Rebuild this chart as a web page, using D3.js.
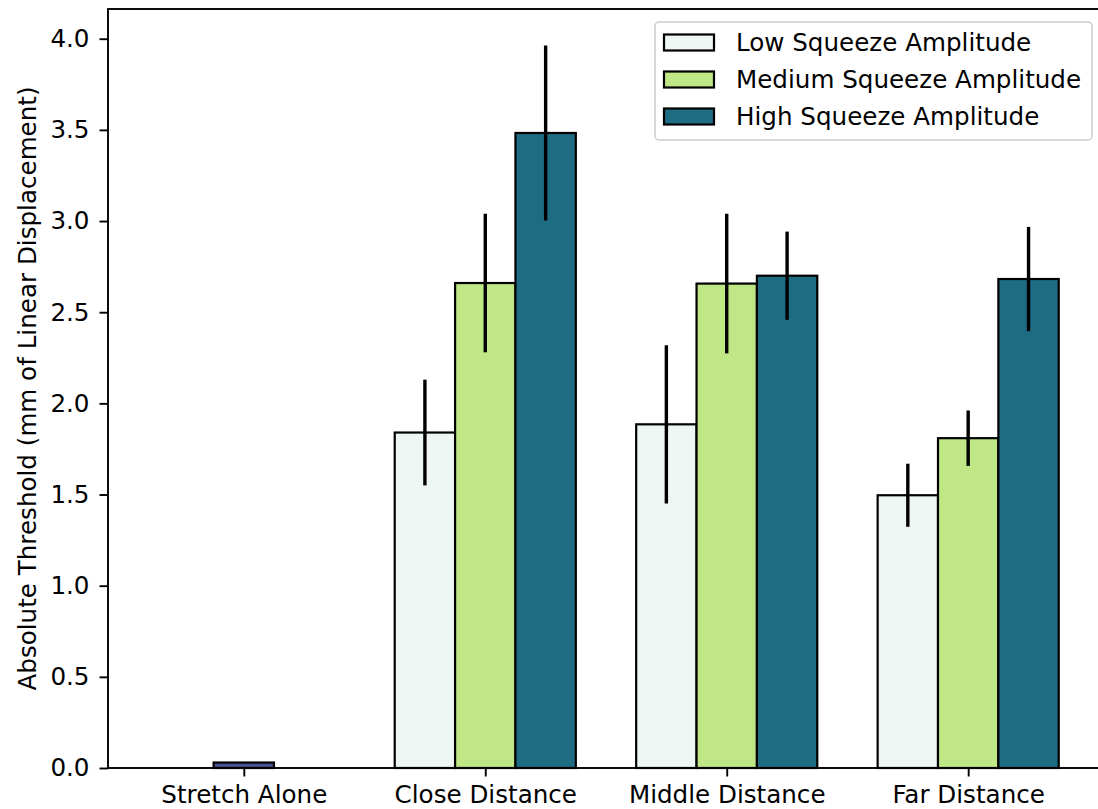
<!DOCTYPE html>
<html>
<head>
<meta charset="utf-8">
<script src="https://cdn.jsdelivr.net/npm/d3@7"></script>
<style>
  html, body { margin: 0; padding: 0; background: #fff; overflow: hidden; }
  svg { display: block; font-family: "DejaVu Sans", sans-serif; }
</style>
</head>
<body>
<svg id="chart" width="1098" height="809"></svg>
<script>
// Conditions along the x axis
const categories = ["Stretch Alone", "Close Distance", "Middle Distance", "Far Distance"];

// Squeeze amplitude series (Stretch Alone has no squeeze condition)
const seriesNames = ["Low Squeeze Amplitude", "Medium Squeeze Amplitude", "High Squeeze Amplitude"];
const lowMeans    = [null, 1.84, 1.885, 1.496];
const lowErrors   = [null, 0.29, 0.434, 0.173];
const mediumMeans = [null, 2.66, 2.657, 1.809];
const mediumErrors= [null, 0.38, 0.383, 0.152];
const highMeans   = [null, 3.483, 2.70, 2.682];
const highErrors  = [null, 0.48, 0.242, 0.286];

// Stretch-only baseline
const stretchMean = [0.03];

const yTicks = [0.0, 0.5, 1.0, 1.5, 2.0, 2.5, 3.0, 3.5, 4.0];
const colors = ["#edf6f3", "#bfe785", "#1e6c83"];
const stretchColor = "#47538d";

const svg = d3.select("#chart");
const margin = { left: 108, top: 9, right: 1104, bottom: 768 };
const fontSize = "24.6px";

const x = d3.scaleLinear().domain([-0.5625, 3.5625]).range([margin.left, margin.right]);
const y = d3.scaleLinear().domain([0, 4.163]).range([margin.bottom, margin.top]);

const barW = 0.25;
const series = [
  { name: seriesNames[0], means: lowMeans, errs: lowErrors, color: colors[0], offset: -0.25 },
  { name: seriesNames[1], means: mediumMeans, errs: mediumErrors, color: colors[1], offset: 0 },
  { name: seriesNames[2], means: highMeans, errs: highErrors, color: colors[2], offset: 0.25 }
];

const plot = svg.append("g");

// Stretch Alone bar
plot.append("rect")
  .attr("x", x(0 - barW / 2))
  .attr("y", y(stretchMean[0]))
  .attr("width", x(barW) - x(0))
  .attr("height", y(0) - y(stretchMean[0]))
  .attr("fill", stretchColor)
  .attr("stroke", "#000")
  .attr("stroke-width", 2.2);

// Grouped bars
series.forEach(s => {
  const pts = s.means.map((m, i) => ({ i, m, e: s.errs[i] })).filter(d => d.m !== null);
  plot.append("g").selectAll("rect").data(pts).join("rect")
    .attr("x", d => x(d.i + s.offset - barW / 2))
    .attr("y", d => y(d.m))
    .attr("width", x(barW) - x(0))
    .attr("height", d => y(0) - y(d.m))
    .attr("fill", s.color)
    .attr("stroke", "#000")
    .attr("stroke-width", 2.2);
});

// Error bars
series.forEach(s => {
  const pts = s.means.map((m, i) => ({ i, m, e: s.errs[i] })).filter(d => d.m !== null);
  plot.append("g").selectAll("line").data(pts).join("line")
    .attr("x1", d => x(d.i + s.offset))
    .attr("x2", d => x(d.i + s.offset))
    .attr("y1", d => y(d.m + d.e))
    .attr("y2", d => y(d.m - d.e))
    .attr("stroke", "#000")
    .attr("stroke-width", 3.4);
});

// Axes
const yAxis = d3.axisLeft(y).tickValues(yTicks).tickFormat(d3.format(".1f")).tickSize(8.5).tickPadding(10);
const gy = svg.append("g").attr("transform", `translate(${margin.left},0)`).call(yAxis);
const xAxis = d3.axisBottom(x).tickValues([0, 1, 2, 3]).tickFormat(i => categories[i]).tickSize(8.5).tickPadding(9);
const gx = svg.append("g").attr("transform", `translate(0,${margin.bottom})`).call(xAxis);

[gx, gy].forEach(g => {
  g.select(".domain").remove();
  g.selectAll(".tick line").attr("stroke", "#000").attr("stroke-width", 1.9);
  g.selectAll(".tick text").attr("fill", "#000").style("font-size", fontSize).style("font-family", "DejaVu Sans");
});

// Frame
svg.append("rect")
  .attr("x", margin.left).attr("y", margin.top)
  .attr("width", margin.right - margin.left).attr("height", margin.bottom - margin.top)
  .attr("fill", "none").attr("stroke", "#000").attr("stroke-width", 1.9);

// Y axis title
svg.append("text")
  .attr("transform", `translate(36,${(margin.top + margin.bottom) / 2}) rotate(-90)`)
  .attr("text-anchor", "middle")
  .style("font-size", fontSize)
  .text("Absolute Threshold (mm of Linear Displacement)");

// Legend
const legend = svg.append("g").attr("transform", "translate(655,22)");
legend.append("rect")
  .attr("width", 437).attr("height", 118).attr("rx", 4)
  .attr("fill", "#fff").attr("fill-opacity", 0.8)
  .attr("stroke", "#cccccc").attr("stroke-width", 1.5);
series.forEach((s, k) => {
  const row = legend.append("g").attr("transform", `translate(0,${20.5 + k * 37})`);
  row.append("rect")
    .attr("x", 9).attr("y", -8).attr("width", 50).attr("height", 16)
    .attr("fill", s.color).attr("stroke", "#000").attr("stroke-width", 2.2);
  row.append("text")
    .attr("x", 81).attr("y", 0).attr("dy", "0.35em")
    .style("font-size", fontSize)
    .text(s.name);
});
</script>
</body>
</html>
